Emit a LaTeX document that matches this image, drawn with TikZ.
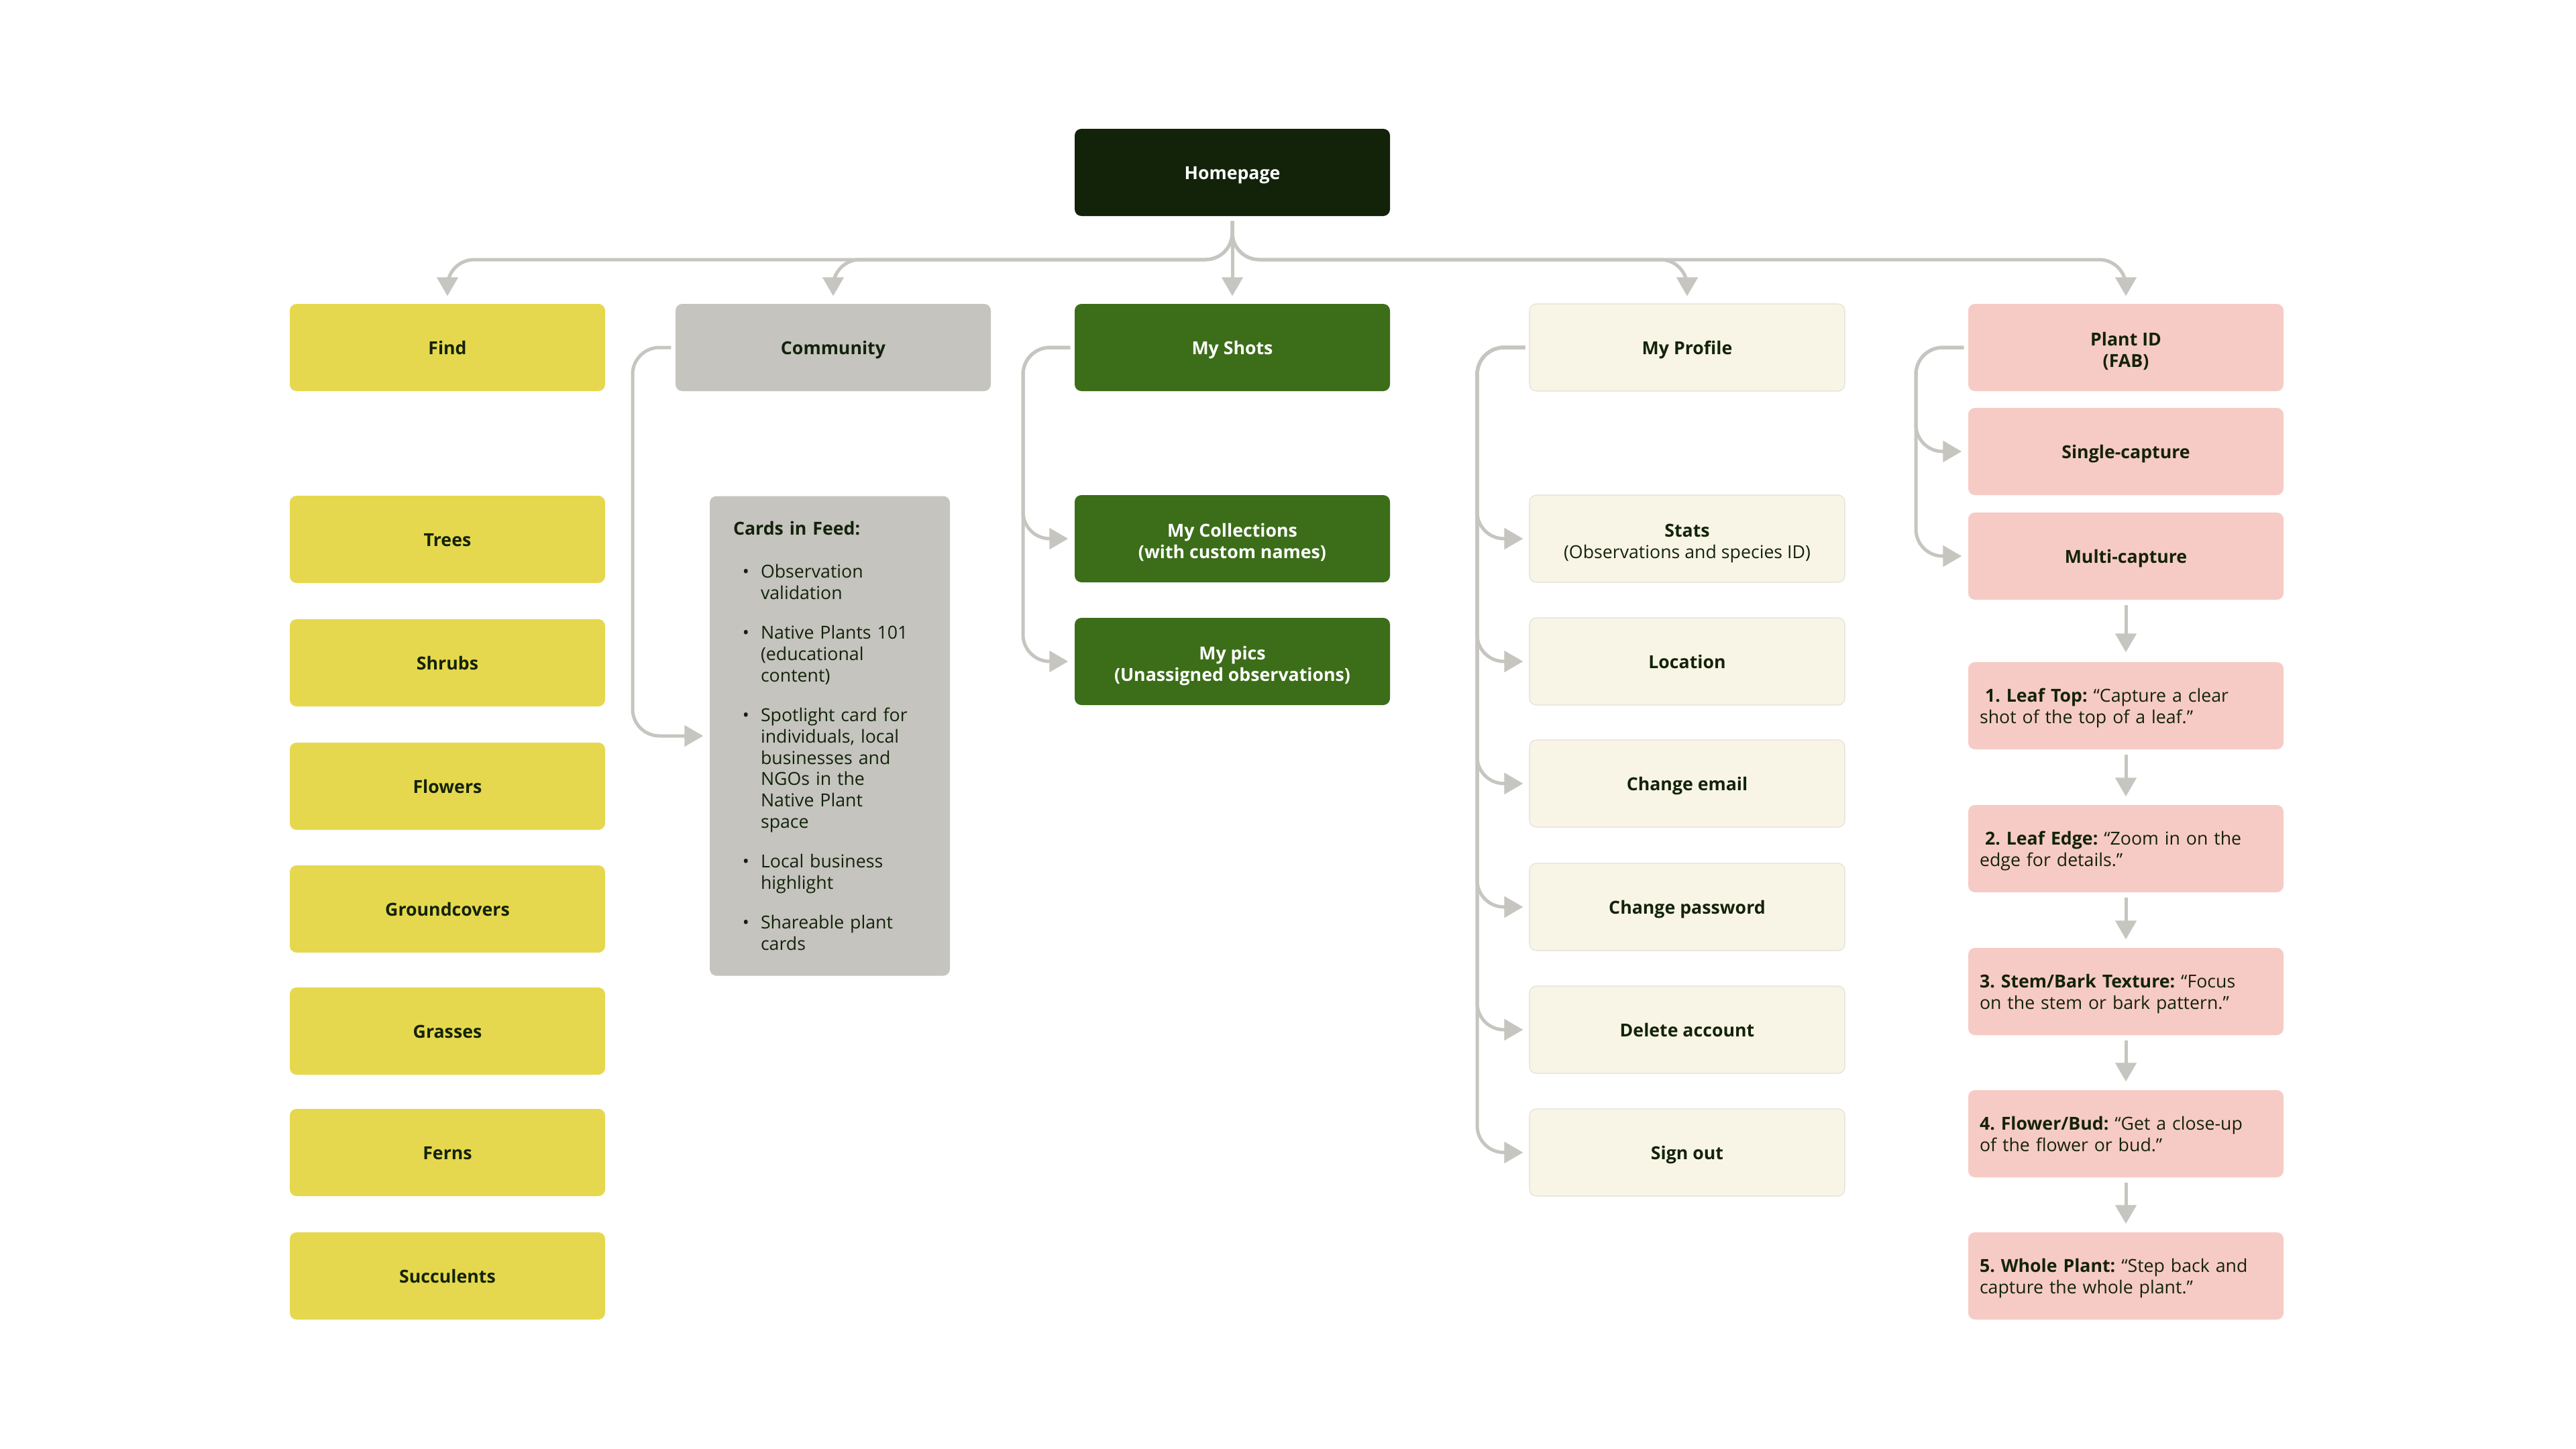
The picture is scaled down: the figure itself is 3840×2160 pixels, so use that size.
\documentclass[tikz,border=0pt]{standalone}
\usepackage{fontspec}
\setmainfont{Open Sans}
\usepackage{enumitem}
\usetikzlibrary{arrows.meta}
\frenchspacing
\definecolor{ink}{HTML}{13230A}
\definecolor{linegray}{HTML}{C6C5C0}
\definecolor{yel}{HTML}{E6D84E}
\definecolor{commgray}{HTML}{C5C4BF}
\definecolor{leaf}{HTML}{3C6D19}
\definecolor{cream}{HTML}{F8F5E7}
\definecolor{creamline}{HTML}{E3E0D0}
\definecolor{pink}{HTML}{F7CBC5}
\newcommand\boxfs{\fontsize{7.6pt}{9.1pt}\selectfont}
\newcommand\topstrut{\rule{0pt}{7.6pt}}
\newcommand\tallstrut{\rule{0pt}{9.3pt}}
\newcommand\botstrut{\rule[-1.8pt]{0pt}{1.8pt}}
\begin{document}
\begin{tikzpicture}[x=0.1mm,y=-0.1mm,
  box/.style={rounded corners=1mm, minimum width=47mm, minimum height=13mm, inner sep=0pt,
    align=center, font=\boxfs\bfseries, text=ink,
    execute at begin node=\topstrut, execute at end node=\botstrut},
  darkbox/.style={box, fill=ink, text=white},
  yelbox/.style={box, fill=yel},
  graybox/.style={box, fill=commgray},
  greenbox/.style={box, fill=leaf, text=white},
  creambox/.style={box, fill=cream, draw=creamline, line width=0.3pt},
  pinkbox/.style={box, fill=pink},
  stepbox/.style={pinkbox, align=left, text width=43.6mm, inner xsep=1.7mm, font=\boxfs},
  cardbox/.style={rounded corners=1mm, fill=commgray, text=ink, font=\boxfs, align=left,
    text width=28.8mm, inner xsep=3.5mm, inner ysep=0pt, minimum height=71.5mm},
  conn/.style={draw=linegray, line width=0.5mm, -{Triangle[length=2.8mm,width=3.1mm]}},
  tree/.style={conn, rounded corners=4mm, shorten <=0.7mm, shorten >=1.1mm},
  side/.style={conn, rounded corners=4mm, shorten <=0.6mm, shorten >=0.9mm},
  flow/.style={conn, shorten <=0.7mm, shorten >=1.2mm}
]
\useasboundingbox (0,0) rectangle (3840,2160);
\fill[white] (0,0) rectangle (3840,2160);

% top
\node[darkbox] (hp) at (1837,257) {Homepage};

% column 1
\node[yelbox] (find) at (667,518) {Find};
\node[yelbox] (trees) at (667,804) {Trees};
\node[yelbox] (shrubs) at (667,988) {Shrubs};
\node[yelbox] (flowers) at (667,1172) {Flowers};
\node[yelbox] (ground) at (667,1355) {Groundcovers};
\node[yelbox] (grasses) at (667,1537) {Grasses};
\node[yelbox] (ferns) at (667,1718) {Ferns};
\node[yelbox] (succ) at (667,1902) {Succulents};

% column 2
\node[graybox] (comm) at (1242,518) {Community};
\node[cardbox] (cards) at (1237,1097) {\textbf{Cards in Feed:}\par\vspace{3.2mm}
\begin{itemize}[leftmargin=4.1mm, labelsep=1.7mm, itemsep=2.7mm, parsep=0pt, topsep=0pt, partopsep=0pt, label=\textbullet]
\item Observation\\validation
\item Native Plants 101\\(educational\\content)
\item Spotlight card for\\individuals, local\\businesses and\\NGOs in the\\Native Plant\\space
\item Local business\\highlight
\item Shareable plant\\cards
\end{itemize}};

% column 3
\node[greenbox] (ms) at (1837,518) {My Shots};
\node[greenbox] (mc) at (1837,803) {\tallstrut My Collections\\(with custom names)};
\node[greenbox] (mp) at (1837,986) {\tallstrut My pics\\(Unassigned observations)};

% column 4
\node[creambox] (prof) at (2515,518) {My Profile};
\node[creambox] (stats) at (2515,803) {\tallstrut Stats\\\mdseries(Observations and species ID)};
\node[creambox] (loc) at (2515,986) {Location};
\node[creambox] (email) at (2515,1168) {Change email};
\node[creambox] (pwd) at (2515,1352) {Change password};
\node[creambox] (del) at (2515,1535) {Delete account};
\node[creambox] (out) at (2515,1718) {Sign out};

% column 5
\node[pinkbox] (pid) at (3169,518) {\tallstrut Plant ID\\(FAB)};
\node[pinkbox] (single) at (3169,673) {Single-capture};
\node[pinkbox] (multi) at (3169,829) {Multi-capture};
\node[stepbox] (s1) at (3169,1052) {\hspace*{0.3em}\textbf{1. Leaf Top:} “Capture a clear\\shot of the top of a leaf.”};
\node[stepbox] (s2) at (3169,1265) {\hspace*{0.3em}\textbf{2. Leaf Edge:} “Zoom in on the\\edge for details.”};
\node[stepbox] (s3) at (3169,1478) {\textbf{3. Stem/Bark Texture:} “Focus\\on the stem or bark pattern.”};
\node[stepbox] (s4) at (3169,1690) {\textbf{4. Flower/Bud:} “Get a close-up\\of the flower or bud.”};
\node[stepbox] (s5) at (3169,1902) {\textbf{5. Whole Plant:} “Step back and\\capture the whole plant.”};

% helper coordinates
\coordinate (bus) at (0,387);
\coordinate (r2) at (943,0);
\coordinate (r3) at (1525,0);
\coordinate (r4) at (2202,0);
\coordinate (r5) at (2856,0);

% homepage branches
\draw[tree] (hp.south) -- (hp.south |- bus) -- (find.north |- bus) -- (find.north);
\draw[tree] (hp.south) -- (hp.south |- bus) -- (comm.north |- bus) -- (comm.north);
\draw[flow, shorten <=0.7mm, shorten >=1.1mm] (hp.south) -- (ms.north);
\draw[tree] (hp.south) -- (hp.south |- bus) -- (prof.north |- bus) -- (prof.north);
\draw[tree] (hp.south) -- (hp.south |- bus) -- (pid.north |- bus) -- (pid.north);

% community
\draw[side] (comm.west) -- (r2 |- comm.west) -- (r2 |- cards.west) -- (cards.west);

% my shots
\draw[side] (ms.west) -- (r3 |- ms.west) -- (r3 |- mc.west) -- (mc.west);
\draw[side] (ms.west) -- (r3 |- ms.west) -- (r3 |- mp.west) -- (mp.west);

% my profile
\foreach \t in {stats,loc,email,pwd,del,out}
  \draw[side] (prof.west) -- (r4 |- prof.west) -- (r4 |- \t.west) -- (\t.west);

% plant id
\draw[side] (pid.west) -- (r5 |- pid.west) -- (r5 |- single.west) -- (single.west);
\draw[side] (pid.west) -- (r5 |- pid.west) -- (r5 |- multi.west) -- (multi.west);
\draw[flow, shorten >=1.4mm] (multi.south) -- (s1.north);
\draw[flow] (s1.south) -- (s2.north);
\draw[flow] (s2.south) -- (s3.north);
\draw[flow] (s3.south) -- (s4.north);
\draw[flow] (s4.south) -- (s5.north);
\end{tikzpicture}
\end{document}
